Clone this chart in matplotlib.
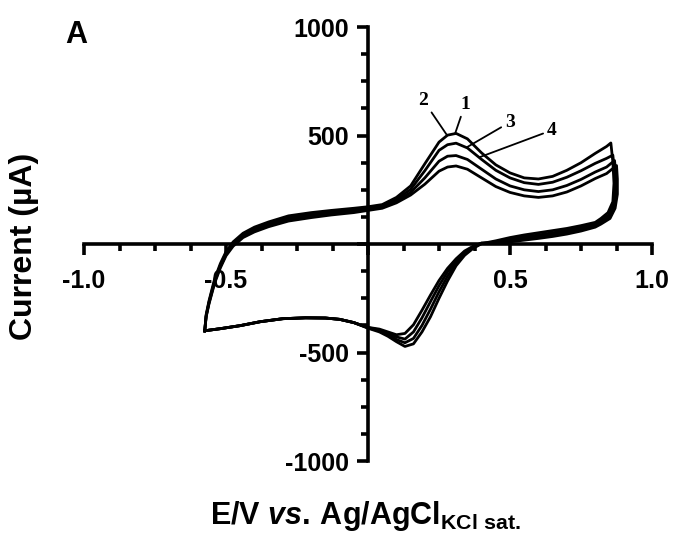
"""
Cyclic voltammogram (4 cycles) - panel A
"""
import matplotlib.pyplot as plt
from matplotlib.ticker import MultipleLocator

plt.rcParams['font.family'] = ['Liberation Sans', 'DejaVu Sans']
plt.rcParams['font.weight'] = 'bold'
plt.rcParams['mathtext.fontset'] = 'custom'
plt.rcParams['mathtext.rm'] = 'Liberation Sans:bold'
plt.rcParams['mathtext.it'] = 'Liberation Sans:bold:italic'
plt.rcParams['mathtext.bf'] = 'Liberation Sans:bold'

# potentials (V) for the forward (anodic) sweep
E_left = [-0.575, -0.57, -0.56, -0.54, -0.52, -0.50, -0.475, -0.44, -0.40,
          -0.35, -0.28, -0.20, -0.13, -0.05, 0.0]
E_right = [0.05, 0.10, 0.15, 0.20, 0.25, 0.28, 0.31, 0.35, 0.40, 0.45, 0.50,
           0.55, 0.60, 0.65, 0.70, 0.75, 0.80, 0.84]
# reverse sweep potentials
E_rev = [0.80, 0.75, 0.70, 0.65, 0.60, 0.55, 0.50, 0.45]
E_cat = [0.40, 0.37, 0.34, 0.31, 0.28, 0.25, 0.22, 0.19, 0.16, 0.13, 0.10,
         0.07, 0.04, 0.0]
E_back = [-0.05, -0.10, -0.15, -0.22, -0.30, -0.38, -0.45, -0.52, -0.56, -0.575]
i_back = [-362, -347, -341, -340, -344, -358, -376, -390, -397, -400]

# currents (uA) per cycle
c1_left = [-400, -325, -262, -160, -90, -35, 10, 50, 78, 102, 130, 145, 155, 165, 172]
c2_left = [-400, -330, -268, -168, -98, -42, 2, 42, 70, 94, 121, 136, 147, 157, 165]
c3_left = [-400, -333, -272, -174, -104, -48, -4, 36, 63, 87, 114, 129, 140, 151, 160]
c4_left = [-400, -336, -276, -180, -110, -54, -10, 30, 56, 80, 106, 122, 134, 145, 155]

c1_right = [182, 215, 268, 370, 470, 502, 510, 485, 420, 365, 328, 305, 300, 312, 340, 375, 418, 450]
c2_right = [176, 206, 252, 338, 432, 458, 465, 443, 390, 340, 305, 283, 275, 285, 308, 338, 372, 395]
c3_right = [170, 198, 238, 305, 382, 405, 408, 390, 345, 300, 268, 250, 242, 250, 270, 298, 332, 355]
c4_right = [165, 190, 226, 276, 336, 355, 360, 345, 305, 265, 238, 222, 215, 222, 240, 268, 302, 325]

# switching vertex region
c1_vtx_E = [0.855, 0.862, 0.866, 0.862, 0.845, 0.82]
c1_vtx_i = [466, 380, 280, 195, 145, 118]
c2_vtx_E = [0.862, 0.868, 0.870, 0.865, 0.848, 0.82]
c2_vtx_i = [410, 340, 260, 185, 135, 108]
c3_vtx_E = [0.868, 0.873, 0.874, 0.868, 0.850, 0.82]
c3_vtx_i = [385, 320, 245, 175, 125, 100]
c4_vtx_E = [0.875, 0.878, 0.878, 0.870, 0.852, 0.82]
c4_vtx_i = [362, 300, 230, 165, 118, 92]

c1_rev = [100, 85, 72, 62, 52, 42, 30, 15]
c2_rev = [92, 76, 63, 52, 42, 33, 22, 10]
c3_rev = [85, 68, 54, 43, 34, 25, 15, 5]
c4_rev = [78, 60, 46, 35, 26, 18, 10, 2]

c1_cat = [2, -20, -52, -100, -170, -250, -335, -405, -460, -472, -450, -425, -405, -388]
c2_cat = [3, -16, -45, -88, -148, -220, -300, -375, -435, -455, -440, -418, -400, -386]
c3_cat = [4, -13, -38, -78, -128, -192, -265, -340, -405, -438, -428, -410, -396, -385]
c4_cat = [5, -10, -32, -68, -112, -168, -235, -305, -372, -412, -418, -405, -392, -384]

cycles = [
    (c1_left, c1_right, c1_vtx_E, c1_vtx_i, c1_rev, c1_cat),
    (c2_left, c2_right, c2_vtx_E, c2_vtx_i, c2_rev, c2_cat),
    (c3_left, c3_right, c3_vtx_E, c3_vtx_i, c3_rev, c3_cat),
    (c4_left, c4_right, c4_vtx_E, c4_vtx_i, c4_rev, c4_cat),
]

fig = plt.figure(figsize=(6.87, 5.39), dpi=100)
ax = fig.add_axes([0.1223, 0.1447, 0.8268, 0.805])

for left, right, vE, vi, rev, cat in cycles:
    E = E_left + E_right + vE + E_rev + E_cat + E_back
    cur = left + right + vi + rev + cat + i_back
    ax.plot(E, cur, color='black', lw=2.0, solid_joinstyle='round')

ax.set_xlim(-1.0, 1.0)
ax.set_ylim(-1000, 1000)
for s in ['top', 'right']:
    ax.spines[s].set_visible(False)
for s in ['left', 'bottom']:
    ax.spines[s].set_position(('data', 0))
    ax.spines[s].set_linewidth(2.6)

ax.set_xticks([-1.0, -0.5, 0, 0.5, 1.0])
ax.set_xticklabels(['-1.0', '-0.5', '', '0.5', '1.0'])
ax.set_yticks([-1000, -500, 0, 500, 1000])
ax.set_yticklabels(['-1000', '-500', '', '500', '1000'])
ax.xaxis.set_minor_locator(MultipleLocator(0.125))
ax.yaxis.set_minor_locator(MultipleLocator(125))
ax.tick_params(which='major', length=8, width=2.6, labelsize=18, direction='out')
ax.tick_params(which='minor', length=5, width=2.6, direction='out')
ax.tick_params(axis='x', which='major', pad=10)
ax.tick_params(axis='y', which='major', pad=6)
for lab in ax.get_xticklabels() + ax.get_yticklabels():
    lab.set_fontweight('bold')

# cycle labels
num_font = dict(family='Liberation Serif', weight='bold', fontsize=14)
ann = [('2', (0.278, 502), (0.194, 664)),
       ('1', (0.306, 507), (0.342, 645)),
       ('3', (0.349, 447), (0.500, 562)),
       ('4', (0.394, 401), (0.648, 525))]
for txt, xy, xyt in ann:
    ax.annotate(txt, xy=xy, xytext=xyt, ha='center', va='center', **num_font,
                arrowprops=dict(arrowstyle='-', lw=1.3, color='black',
                                shrinkA=1, shrinkB=0))

fig.text(24/687, 1 - 246/539, 'Current (µA)', rotation=90, ha='center',
         va='center', fontsize=23, fontweight='bold')
fig.text(210/687, (539-524)/539, 'E/V $\\mathit{vs.}\\,$Ag/AgCl$_{\\mathrm{KCl\\ sat.}}$',
         ha='left', va='baseline', fontsize=22, fontweight='bold')
fig.text(65/687, (539-43)/539, 'A', ha='left', va='baseline', fontsize=22,
         fontweight='bold')

fig.savefig('out.png', dpi=100)
